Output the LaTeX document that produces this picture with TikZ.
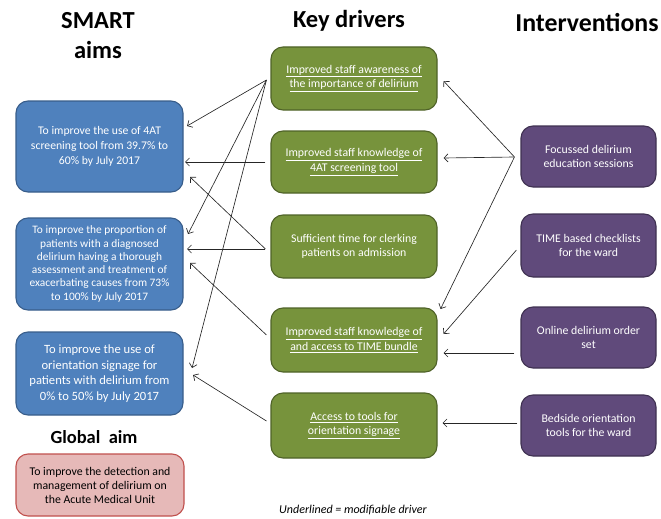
\documentclass[tikz,border=0pt]{standalone}
\usepackage{fontspec}
\setmainfont{Carlito}
\usetikzlibrary{arrows.meta,calc}
\definecolor{bluefill}{HTML}{4F81BD}
\definecolor{blueline}{HTML}{385D8A}
\definecolor{greenfill}{HTML}{77933C}
\definecolor{greenline}{HTML}{4F6228}
\definecolor{purplefill}{HTML}{604A7B}
\definecolor{purpleline}{HTML}{3F3151}
\definecolor{pinkfill}{HTML}{E6B9B8}
\definecolor{redline}{HTML}{C0504D}
\definecolor{arrowcol}{HTML}{262626}
\begin{document}
\begin{tikzpicture}[x=1pt,y=-1pt,
  box/.style={draw, line width=1.1pt, rounded corners=12pt, align=center, inner sep=0pt,
    font=\fontsize{11.8}{14.5}\selectfont},
  aimbox/.style={box, fill=bluefill, draw=blueline, text=white, minimum width=167pt},
  drvbox/.style={box, fill=greenfill, draw=greenline, text=white, minimum width=166pt},
  intbox/.style={box, fill=purplefill, draw=purpleline, text=white, minimum width=135pt},
  globbox/.style={box, fill=pinkfill, draw=redline, text=black, minimum width=168pt},
  heading/.style={font=\fontsize{24.5}{30}\selectfont\bfseries, align=center, inner sep=0pt},
  arr/.style={draw=arrowcol, line width=0.65pt, -{Straight Barb[length=4pt,width=8pt]}},
]
\useasboundingbox (0,0) rectangle (661,519);

% headings
\node[heading] (hsmart) at (98,36) {SMART\\aims};
\node[heading] (hkey) at (349,21) {Key drivers};
\node[heading, font=\fontsize{25.8}{30}\selectfont\bfseries] (hint) at (587,23) {Interventions};
\node[heading, font=\fontsize{18.5}{22}\selectfont\bfseries] (hglob) at (94,437) {Global\ \ aim};
\node[font=\fontsize{12}{14}\selectfont\itshape, inner sep=0pt] (note) at (353,510) {Underlined = modifiable driver};

% SMART aims
\node[aimbox, minimum height=91pt, font=\fontsize{11.7}{15}\selectfont] (a1) at (99.5,146.5)
  {To improve the use of 4AT\\screening tool from 39.7\% to\\60\% by July 2017};
\node[aimbox, minimum height=92pt, font=\fontsize{11.4}{13.3}\selectfont] (a2) at (99.5,264)
  {To improve the proportion of\\patients with a diagnosed\\delirium having a thorough\\assessment and treatment of\\exacerbating causes from 73\%\\to 100\% by July 2017};
\node[aimbox, minimum height=83pt, font=\fontsize{12.6}{15.5}\selectfont] (a3) at (99.5,373.5)
  {To improve the use of\\orientation signage for\\patients with delirium from\\0\% to 50\% by July 2017};
\node[globbox, minimum height=62pt, font=\fontsize{11.8}{14}\selectfont] (ga) at (100,485)
  {To improve the detection and\\management of delirium on\\the Acute Medical Unit};

% key drivers
\node[drvbox, minimum height=63pt] (d1) at (354,78.5)
  {\underline{Improved staff awareness of}\\\underline{the importance of delirium}};
\node[drvbox, minimum height=62pt] (d2) at (354,162)
  {\underline{Improved staff knowledge of}\\\underline{4AT screening tool}};
\node[drvbox, minimum height=63pt] (d3) at (354,246.5)
  {Sufficient time for clerking\\patients on admission};
\node[drvbox, minimum height=64pt] (d4) at (354,340)
  {\underline{Improved staff knowledge of}\\\underline{and access to TIME bundle}};
\node[drvbox, minimum height=65pt] (d5) at (354,425.5)
  {\underline{Access to tools for}\\\underline{orientation signage}};

% interventions
\node[intbox, minimum height=61pt] (i1) at (588.5,156.5) {Focussed delirium\\education sessions};
\node[intbox, minimum height=63pt] (i2) at (588.5,245.5) {TIME based checklists\\for the ward};
\node[intbox, minimum height=61pt] (i3) at (588.5,337.5) {Online delirium order\\set};
\node[intbox, minimum height=61pt] (i4) at (588.5,425.5) {Bedside orientation\\tools for the ward};

% connector end points
\coordinate (sd1) at ($(d1.west)+(-4,1.5)$);
\coordinate (sd2) at ($(d2.west)+(-5,0)$);
\coordinate (sd3) at ($(d3.west)+(-5,2.5)$);
\coordinate (sd4) at ($(d4.west)+(-4,-5)$);
\coordinate (sd5) at ($(d5.west)+(-4,-4.5)$);
\coordinate (ta1a) at ($(a1.east)+(3.5,-20.5)$);
\coordinate (ta1b) at ($(a1.east)+(1.5,15.5)$);
\coordinate (ta1c) at ($(a1.east)+(6.5,30.5)$);
\coordinate (ta2a) at ($(a2.east)+(4.5,-30)$);
\coordinate (ta2b) at ($(a2.east)+(3.5,-15)$);
\coordinate (ta2c) at ($(a2.east)+(6.5,-1)$);
\coordinate (ta3a) at ($(a3.east)+(8.5,-5.5)$);
\coordinate (ta3b) at ($(a3.east)+(9.5,1.5)$);

\coordinate (si1) at ($(i1.west)+(-6,0.5)$);
\coordinate (si2) at ($(i2.west)+(-4,4.5)$);
\coordinate (si3) at ($(i3.west)+(-6,15.5)$);
\coordinate (si4) at ($(i4.west)+(-3,-2.5)$);
\coordinate (td1) at ($(d1.east)+(6,2.5)$);
\coordinate (td2) at ($(d2.east)+(6,-4)$);
\coordinate (td4a) at ($(d4.east)+(3,-31)$);
\coordinate (td4b) at ($(d4.east)+(6,-6)$);
\coordinate (td4c) at ($(d4.east)+(6,13)$);
\coordinate (td5) at ($(d5.east)+(5,-2.5)$);

% drivers -> aims
\draw[arr] (sd1) -- (ta1a);
\draw[arr] (sd1) -- (ta2a);
\draw[arr] (sd1) -- (ta3a);
\draw[arr] (sd2) -- (ta1b);
\draw[arr] (sd3) -- (ta1c);
\draw[arr] (sd3) -- (ta2b);
\draw[arr] (sd4) -- (ta2c);
\draw[arr] (sd5) -- (ta3b);

% interventions -> drivers
\draw[arr] (si1) -- (td1);
\draw[arr] (si1) -- (td2);
\draw[arr] (si1) -- (td4a);
\draw[arr] (si2) -- (td4b);
\draw[arr] (si3) -- (td4c);
\draw[arr] (si4) -- (td5);
\end{tikzpicture}
\end{document}
